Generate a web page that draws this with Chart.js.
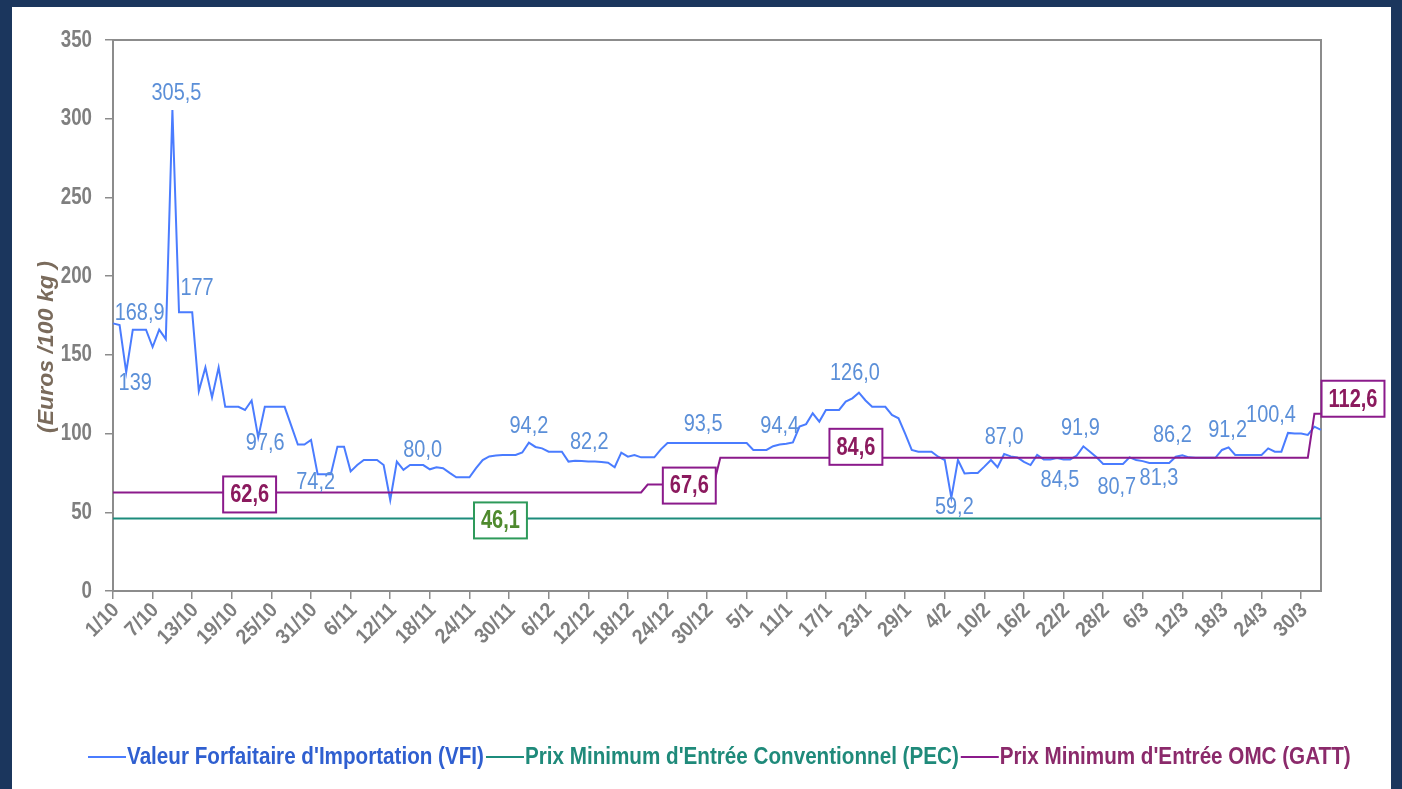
<!DOCTYPE html>
<html>
<head>
<meta charset="utf-8">
<script src="https://cdn.jsdelivr.net/npm/chart.js@4.4.1/dist/chart.umd.min.js"></script>
<style>
  html, body { margin: 0; padding: 0; }
  body { width: 1402px; height: 789px; background: #1b365d; position: relative; overflow: hidden; }
  #panel { position: absolute; left: 12px; top: 7px; width: 1379px; height: 782px; background: #fff; }
  canvas { display: block; }
</style>
</head>
<body>
<div id="panel"><canvas id="chart" width="1379" height="782"></canvas></div>
<script>
// ------------------ DATA ------------------
const xTickLabels = ['1/10', '7/10', '13/10', '19/10', '25/10', '31/10', '6/11', '12/11', '18/11', '24/11',
    '30/11', '6/12', '12/12', '18/12', '24/12', '30/12', '5/1', '11/1', '17/1', '23/1',
    '29/1', '4/2', '10/2', '16/2', '22/2', '28/2', '6/3', '12/3', '18/3', '24/3', '30/3'];
const yTicks = [0, 50, 100, 150, 200, 250, 300, 350];

// daily categories, 1/10 to 2/4
const days = [];
for (let i = 0; i < 184; i++) {
    const d = new Date(2010, 9, 1 + i);
    days.push(d.getDate() + '/' + (d.getMonth() + 1));
}

// Valeur Forfaitaire d'Importation, one value per day
const vfiValues = [
    170, 168.9, 139, 166, 166, 166, 155, 166, 160, 305.5,
    177, 177, 177, 127, 142, 123, 142, 117, 117, 117,
    115, 121, 97.6, 117, 117, 117, 117, 105, 93, 93,
    96, 74.2, 74.2, 74.2, 91.7, 91.7, 76, 80, 83.2, 83.2,
    83.2, 80, 57.8, 82.2, 77, 80, 80, 80, 77.3, 78.6,
    78, 75, 72.2, 72.2, 72.2, 78, 83.2, 85.5, 86, 86.4,
    86.4, 86.4, 88, 94.2, 91.5, 90.6, 88.5, 88.5, 88.5, 82.2,
    82.8, 82.5, 82.2, 82.2, 82, 81.5, 78.6, 87.9, 85.3, 86.4,
    84.9, 84.9, 84.9, 90, 94, 94, 94, 94, 94, 94,
    94, 94, 94, 94, 94, 94, 94, 89.6, 89.6, 89.6,
    92, 93, 93.5, 94.4, 104.4, 106, 112.9, 107.6, 115, 115,
    115, 120.3, 122.4, 126.0, 121, 117, 117, 117, 111.8, 109.7,
    100, 89.6, 88.5, 88.5, 88.5, 85.3, 83.2, 59.2, 83.2, 74.7,
    75, 75, 79, 83.2, 78.6, 87.0, 85.5, 84.9, 82, 80,
    86.4, 83.6, 83.6, 84.5, 83.6, 83.6, 86, 91.9, 88.5, 84.9,
    80.7, 80.7, 80.7, 80.7, 84.9, 83.2, 82.5, 81.3, 81.3, 81.3,
    81.3, 85.3, 86.2, 84.9, 84.6, 84.6, 84.6, 84.6, 89.6, 91.2,
    86.4, 86.4, 86.4, 86.4, 86.4, 90.6, 88.5, 88.5, 100.4, 100,
    100, 99.1, 104.4, 102.3
];

// step series given as [day index, value] at each change
const pecPoints = [[0, 46.1], [183, 46.1]];
const omcPoints = [[0, 62.6], [80, 62.6], [81, 67.6], [91, 67.6], [92, 84.6], [181, 84.6], [182, 112.6], [183, 112.6]];

// value labels
const vfiLabelIdx  = [1, 2, 9, 10, 22, 31, 46, 63, 72, 90, 101, 113, 127, 135, 143, 147, 151, 158, 162, 169, 178];
const vfiLabelText = ['168,9', '139', '305,5', '177', '97,6', '74,2', '80,0', '94,2', '82,2', '93,5', '94,4',
    '126,0', '59,2', '87,0', '84,5', '91,9', '80,7', '81,3', '86,2', '91,2', '100,4'];
const pecLabelIdx  = [59];
const pecLabelText = ['46,1'];
const omcLabelIdx  = [21, 87, 113, 183];
const omcLabelText = ['62,6', '67,6', '84,6', '112,6'];

const seriesNames = ["Valeur Forfaitaire d'Importation (VFI)", "Prix Minimum d'Entrée Conventionnel (PEC)", "Prix Minimum d'Entrée OMC (GATT)"];

// ------------------ STYLE ------------------
const SANS = "'Liberation Sans', Arial, sans-serif";
const colors = { vfi: '#4a7cff', pec: '#1c8c7c', omc: '#8b1a8b' };
const legendText = ['#2f5fd0', '#1f8a7a', '#8b2a6b'];
const axisGray = '#8c8c8c';
const tickGray = '#7f7f7f';

// label offsets (px) from the point
const vfiLabelOffset = [[20, -12], [9, 11], [4, -17], [18, -24], [7, 6], [-2, 8], [6, -15], [0, -16], [1, -19],
    [-4, -19], [0, -18], [-4, -19], [3, 10], [0, -17], [3, 22], [-3, -18], [7, 23], [3, 15], [-10, -20],
    [-1, -17], [-17, -18]];
const pecLabelOffset = [[-2, 2]];
const omcLabelOffset = [[-2, 2], [2, 1], [-3, -11], [32, -15]];

Chart.defaults.font.family = SANS;

const toXY = pts => pts.map(p => ({ x: days[p[0]], y: p[1] }));

// condensed text: Arial metrics squeezed horizontally, like the narrow face of the original
function narrowText(ctx, text, x, y, o) {
    ctx.save();
    ctx.translate(x, y);
    if (o.rotate) ctx.rotate(o.rotate);
    ctx.scale(o.sx, 1);
    ctx.font = o.font;
    ctx.fillStyle = o.color;
    ctx.textAlign = o.align || 'center';
    ctx.textBaseline = o.baseline || 'middle';
    ctx.fillText(text, 0, 0);
    ctx.restore();
}

function textWidth(ctx, text, font, sx) {
    ctx.save();
    ctx.font = font;
    const w = ctx.measureText(text).width * sx;
    ctx.restore();
    return w;
}

// ------------------ PLUGIN: frame, labels, legend, title ------------------
const decorations = {
    id: 'decorations',
    beforeDatasetsDraw(chart) {
        const { ctx, chartArea: a } = chart;
        ctx.save();
        ctx.strokeStyle = axisGray;
        ctx.lineWidth = 2;
        ctx.strokeRect(a.left, a.top, a.right - a.left, a.bottom - a.top);
        ctx.restore();
    },
    afterDatasetsDraw(chart) {
        const { ctx } = chart;
        const xs = chart.scales.x, ys = chart.scales.y;

        // blue value labels
        vfiLabelIdx.forEach((idx, k) => {
            const x = xs.getPixelForValue(idx) + vfiLabelOffset[k][0];
            const y = ys.getPixelForValue(vfiValues[idx]) + vfiLabelOffset[k][1];
            narrowText(ctx, vfiLabelText[k], x, y, { font: '24px ' + SANS, sx: 0.83, color: '#5b8fd8' });
        });

        // boxed labels
        const boxFont = 'bold 25px ' + SANS;
        const boxLabel = (text, x, y, border, fill) => {
            const w = textWidth(ctx, text, boxFont, 0.8) + 14;
            const h = 36;
            ctx.save();
            ctx.fillStyle = '#fff';
            ctx.fillRect(x - w / 2, y - h / 2, w, h);
            ctx.strokeStyle = border;
            ctx.lineWidth = 2;
            ctx.strokeRect(x - w / 2, y - h / 2, w, h);
            ctx.restore();
            narrowText(ctx, text, x, y + 1, { font: boxFont, sx: 0.8, color: fill });
        };
        pecLabelIdx.forEach((idx, k) => {
            boxLabel(pecLabelText[k], xs.getPixelForValue(idx) + pecLabelOffset[k][0],
                ys.getPixelForValue(pecPoints[0][1]) + pecLabelOffset[k][1], '#2e9a5a', '#4f8a2e');
        });
        omcLabelIdx.forEach((idx, k) => {
            let v = omcPoints[0][1];
            omcPoints.forEach(p => { if (p[0] <= idx) v = p[1]; });
            boxLabel(omcLabelText[k], xs.getPixelForValue(idx) + omcLabelOffset[k][0],
                ys.getPixelForValue(v) + omcLabelOffset[k][1], colors.omc, '#8b1a5e');
        });
    },
    afterDraw(chart) {
        const { ctx, chartArea: a } = chart;
        const xs = chart.scales.x, ys = chart.scales.y;

        // y tick labels
        yTicks.forEach(v => {
            narrowText(ctx, String(v), a.left - 21, ys.getPixelForValue(v),
                { font: 'bold 24px ' + SANS, sx: 0.78, color: tickGray, align: 'right' });
        });

        // x tick labels, rotated 45 degrees
        xTickLabels.forEach((lab, k) => {
            narrowText(ctx, lab, xs.getPixelForValue(k * 6) + 3, a.bottom + 16, {
                font: 'bold 21px ' + SANS, sx: 0.92, color: tickGray,
                align: 'right', rotate: -Math.PI / 4
            });
        });

        // y axis title
        narrowText(ctx, '(Euros /100 kg )', 35, 340, {
            font: 'italic bold 22px ' + SANS, sx: 1.05, color: '#7a6b5c', rotate: -Math.PI / 2
        });

        // legend
        const legFont = 'bold 24px ' + SANS;
        const lineColors = [colors.vfi, colors.pec, colors.omc];
        let x = 76;
        const y = 750;
        seriesNames.forEach((name, k) => {
            ctx.save();
            ctx.strokeStyle = lineColors[k];
            ctx.lineWidth = 2;
            ctx.beginPath();
            ctx.moveTo(x, y);
            ctx.lineTo(x + 38, y);
            ctx.stroke();
            ctx.restore();
            x += 39;
            narrowText(ctx, name, x, y, { font: legFont, sx: 0.86, color: legendText[k], align: 'left' });
            x += textWidth(ctx, name, legFont, 0.86) + 2;
        });
    }
};

// ------------------ CHART ------------------
new Chart(document.getElementById('chart').getContext('2d'), {
    type: 'line',
    data: {
        labels: days,
        datasets: [
            { label: seriesNames[0], data: vfiValues, borderColor: colors.vfi, borderWidth: 2, pointRadius: 0, order: 3 },
            { label: seriesNames[1], data: toXY(pecPoints), borderColor: colors.pec, borderWidth: 2, pointRadius: 0, order: 2 },
            { label: seriesNames[2], data: toXY(omcPoints), borderColor: colors.omc, borderWidth: 2, pointRadius: 0, order: 1 }
        ]
    },
    options: {
        responsive: false,
        animation: false,
        devicePixelRatio: 1,
        layout: { padding: { left: 0, top: 33, right: 70, bottom: 98 } },
        plugins: { legend: { display: false }, tooltip: { enabled: false } },
        scales: {
            x: {
                offset: false,
                afterFit: s => { s.height = 100; },
                grid: { display: true, drawOnChartArea: false, drawTicks: true, tickLength: 8, color: axisGray, lineWidth: 1.5 },
                border: { display: true, color: axisGray, width: 2 },
                ticks: {
                    autoSkip: false, maxRotation: 45, minRotation: 45,
                    color: 'rgba(0,0,0,0)', font: { size: 19 },
                    callback: (val, idx) => idx % 6 === 0 ? xTickLabels[idx / 6] : null
                }
            },
            y: {
                min: 0, max: 350,
                afterFit: s => { s.width = 101; },
                afterBuildTicks: s => { s.ticks = yTicks.map(v => ({ value: v })); },
                grid: { display: true, drawOnChartArea: false, drawTicks: true, tickLength: 8, color: axisGray, lineWidth: 1.5 },
                border: { display: true, color: axisGray, width: 2 },
                ticks: { padding: 12, color: 'rgba(0,0,0,0)', font: { size: 22 } }
            }
        }
    },
    plugins: [decorations]
});
</script>
</body>
</html>
